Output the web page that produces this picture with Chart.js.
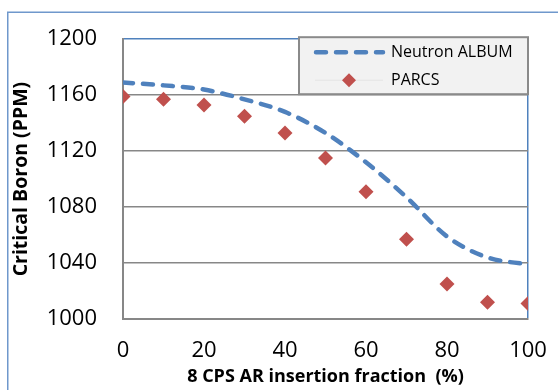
<!DOCTYPE html>
<html>
<head>
<meta charset="utf-8">
<script src="https://cdn.jsdelivr.net/npm/chart.js@4"></script>
<style>
  html, body { margin: 0; padding: 0; background: #fff; }
  #wrap { width: 558px; height: 390px; position: relative; }
</style>
</head>
<body>
<div id="wrap"><canvas id="boron-chart" width="558" height="390"></canvas></div>
<script>
const insertion = [0, 10, 20, 30, 40, 50, 60, 70, 80, 90, 100];
const albumPpm = [1169, 1167, 1164, 1157, 1148, 1133, 1112, 1087, 1059, 1044, 1039];
const parcsPpm = [1159, 1157, 1153, 1145, 1133, 1115, 1091, 1057, 1025, 1012, 1011];
const xTicks = [0, 20, 40, 60, 80, 100];
const yTicks = [1000, 1040, 1080, 1120, 1160, 1200];

const BLUE = '#4F81BD';
const RED = '#C0504D';
const GRID = '#878787';
const FONT = "'Open Sans', sans-serif";

// outer frame + legend box drawn by hand (Chart.js legend has no box)
const framePlugin = {
    id: 'frame',
    beforeDraw(chart) {
        const ctx = chart.ctx;
        ctx.save();
        ctx.strokeStyle = '#6F98CC';
        ctx.lineWidth = 1.5;
        ctx.strokeRect(7.75, 12.25, 700, 500);
        ctx.restore();
    },
    afterDatasetsDraw(chart) {
        const ctx = chart.ctx;
        const area = chart.chartArea;
        const w = 229, h = 57;
        const bx = area.right - w, by = area.top - 2;
        ctx.save();
        ctx.fillStyle = '#F2F2F2';
        ctx.fillRect(bx, by, w, h);
        ctx.strokeStyle = '#8A8A8A';
        ctx.lineWidth = 2;
        ctx.strokeRect(bx, by, w, h);

        const ds = chart.data.datasets;
        // row 1: dashed line
        const y1 = by + 15, y2 = by + 43;
        ctx.strokeStyle = ds[0].borderColor;
        ctx.lineWidth = ds[0].borderWidth;
        ctx.lineCap = 'round';
        ctx.setLineDash(ds[0].borderDash);
        ctx.beginPath();
        ctx.moveTo(bx + 17, y1);
        ctx.lineTo(bx + 84, y1);
        ctx.stroke();
        ctx.setLineDash([]);

        // row 2: thin line + diamond
        ctx.strokeStyle = '#E4E4E4';
        ctx.lineWidth = 1;
        ctx.lineCap = 'butt';
        ctx.beginPath();
        ctx.moveTo(bx + 16, y2);
        ctx.lineTo(bx + 84, y2);
        ctx.stroke();
        Chart.helpers.drawPoint(ctx, { pointStyle: 'rectRot', radius: 7, borderWidth: 0 }, bx + 50, y2);
        ctx.fillStyle = RED;
        ctx.fill();

        ctx.fillStyle = '#000';
        ctx.font = '16px ' + FONT;
        ctx.textBaseline = 'middle';
        ctx.fillText(ds[0].label, bx + 92, y1);
        ctx.fillText(ds[1].label, bx + 92, y2);
        ctx.restore();
    }
};

new Chart(document.getElementById('boron-chart'), {
    type: 'line',
    data: {
        datasets: [
            {
                label: 'Neutron ALBUM',
                data: insertion.map((x, i) => ({ x: x, y: albumPpm[i] })),
                borderColor: BLUE,
                borderWidth: 4.5,
                borderDash: [10, 10],
                borderCapStyle: 'round',
                cubicInterpolationMode: 'monotone',
                pointRadius: 0,
                fill: false
            },
            {
                label: 'PARCS',
                data: insertion.map((x, i) => ({ x: x, y: parcsPpm[i] })),
                showLine: false,
                pointStyle: 'rectRot',
                pointRadius: 7.5,
                pointBackgroundColor: RED,
                pointBorderColor: RED,
                pointBorderWidth: 0
            }
        ]
    },
    options: {
        responsive: false,
        animation: false,
        layout: { padding: { left: 8, top: 36, right: 30, bottom: 0 } },
        plugins: { legend: { display: false }, tooltip: { enabled: false } },
        scales: {
            x: {
                type: 'linear',
                min: 0,
                max: 100,
                afterBuildTicks: (s) => { s.ticks = xTicks.map(v => ({ value: v })); },
                afterFit: (s) => { s.height = 71; s.paddingLeft = 0; s.paddingRight = 0; },
                ticks: { font: { family: FONT, size: 22 }, color: '#000', padding: 19, maxRotation: 0 },
                grid: {
                    drawTicks: false,
                    lineWidth: 1.5,
                    color: (c) => (c.tick && c.tick.value === 100 ? BLUE : 'rgba(0,0,0,0)')
                },
                border: { color: GRID, width: 2 },
                title: {
                    display: true,
                    text: '8 CPS AR insertion fraction  (%)',
                    font: { family: FONT, size: 18, weight: 'bold' },
                    color: '#000',
                    padding: { top: 0, bottom: 2 }
                }
            },
            y: {
                min: 1000,
                max: 1200,
                afterBuildTicks: (s) => { s.ticks = yTicks.map(v => ({ value: v })); },
                afterFit: (s) => { s.width = 115; },
                ticks: {
                    font: { family: FONT, size: 22 },
                    color: '#000',
                    padding: 26,
                    callback: (v) => String(v)
                },
                grid: {
                    drawTicks: false,
                    lineWidth: 1.5,
                    color: (c) => (c.tick && c.tick.value === 1200 ? BLUE : GRID)
                },
                border: { color: GRID, width: 2 },
                title: {
                    display: true,
                    text: 'Critical Boron (PPM)',
                    font: { family: FONT, size: 19.5, weight: 'bold' },
                    color: '#000',
                    padding: { top: 2, bottom: 0 }
                }
            }
        }
    },
    plugins: [framePlugin]
});
</script>
</body>
</html>
